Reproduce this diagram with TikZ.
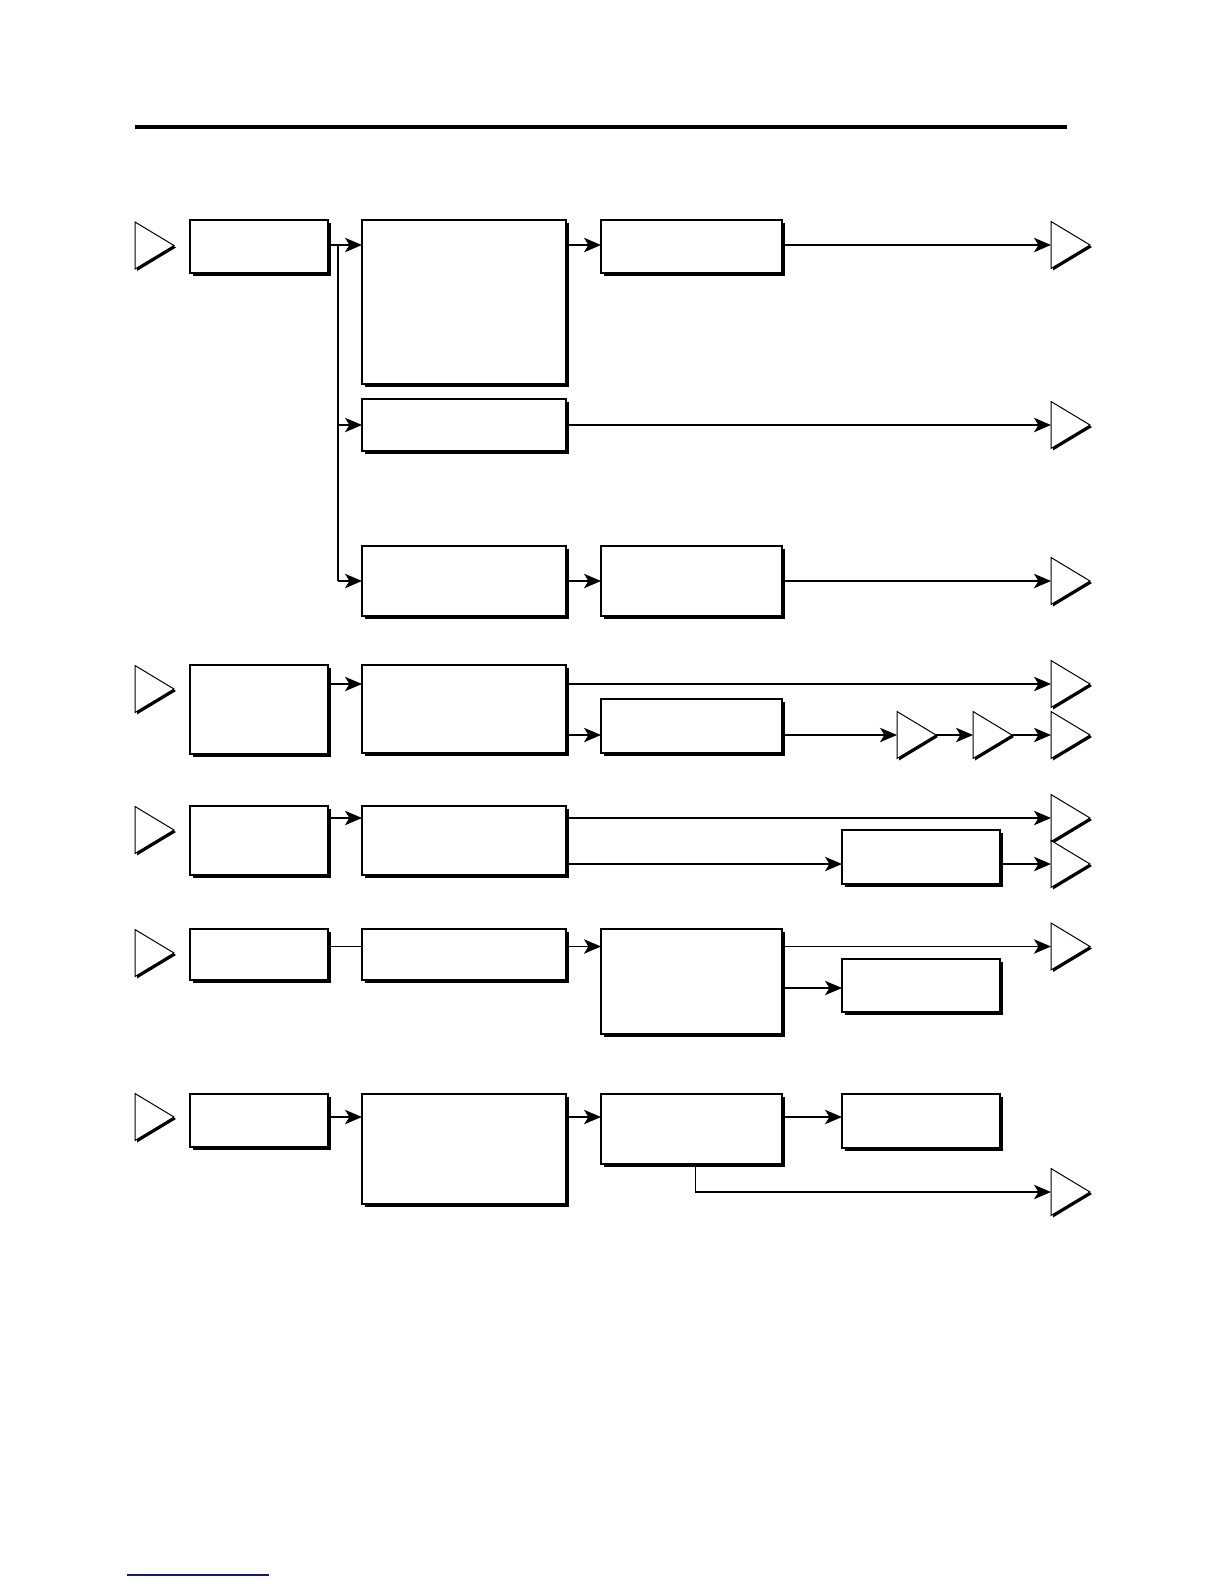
\documentclass[tikz,border=0pt]{standalone}
\usetikzlibrary{arrows.meta,shadows}
\newcommand\mybox[5]{\node[box, minimum width={(#4-#2)*0.5pt}, minimum height={(#5-#3)*0.5pt}] (#1) at ({(#2+#4)/2},{(#3+#5)/2}) {};}
\newcommand\mytri[3]{\node[trinode] (#1) at ({#2+19.5},#3) {};
  \fill ([shift={(2,2)}]#1.north west) -- ([shift={(2,2)}]#1.east) -- ([shift={(2,2)}]#1.south west) -- cycle;
  \draw[line width=0.5pt, fill=white] (#1.north west) -- (#1.east) -- (#1.south west) -- cycle;}
\begin{document}
\begin{tikzpicture}[x=0.5pt,y=-0.5pt,
  box/.style={draw, line width=0.6pt, fill=white, inner sep=0pt, outer sep=0pt,
    drop shadow={shadow xshift=1.6pt, shadow yshift=-1.6pt, fill=black, opacity=1}},
  trinode/.style={inner sep=0pt, outer sep=0pt, minimum width=19.5pt, minimum height=23.5pt},
  ln/.style={line width=0.7pt},
  arr/.style={ln, -{Stealth[length=8.5pt,width=7.2pt,inset=2.2pt]}}]
\useasboundingbox[fill=white] (0,0) rectangle (1224,1584);
% top rule
\draw[line width=2pt] (135,127) -- (1067,127);
% bottom blue rule
\draw[line width=0.6pt, color={rgb,255:red,20;green,20;blue,140}] (127,1575) -- (269,1575);
% boxes
\mybox{b1}{190}{220}{328}{273}
\mybox{b2}{362}{220}{566}{384}
\mybox{b3}{601}{220}{782}{273}
\mybox{b4}{362}{399}{566}{451}
\mybox{b5}{362}{546}{566}{616}
\mybox{b6}{601}{546}{782}{616}
\mybox{b7}{190}{665}{328}{754}
\mybox{b8}{362}{665}{566}{753}
\mybox{b9}{601}{699}{782}{753}
\mybox{b10}{190}{806}{328}{875}
\mybox{b11}{362}{806}{566}{875}
\mybox{b12}{842}{830}{1000}{884}
\mybox{b13}{190}{929}{328}{980}
\mybox{b14}{362}{929}{566}{980}
\mybox{b15}{601}{929}{782}{1034}
\mybox{b16}{842}{959}{1000}{1012}
\mybox{b17}{190}{1094}{328}{1147}
\mybox{b18}{362}{1094}{566}{1204}
\mybox{b19}{601}{1094}{782}{1164}
\mybox{b20}{842}{1094}{1000}{1148}
% input triangles
\mytri{i1}{135}{245.5}
\mytri{i2}{135}{689}
\mytri{i3}{135}{830}
\mytri{i4}{135}{953}
\mytri{i5}{135}{1117}
% output triangles
\mytri{o1}{1051}{245}
\mytri{o2}{1051}{425}
\mytri{o3}{1051}{581}
\mytri{o4}{1051}{684}
\mytri{o5}{1051}{735}
\mytri{m1}{897}{735}
\mytri{m2}{973}{735}
\mytri{o6}{1051}{818}
\mytri{o7}{1051}{864}
\mytri{o8}{1051}{946.5}
\mytri{o9}{1051}{1192}
% row 1
\coordinate (j1) at (338,245);
\coordinate (j3) at (338,581);
\draw[ln] (b1.east |- j1) -- (j1) -- (j3);
\draw[arr] (j1) -- (j1 -| b2.west);
\draw[arr] (j1 |- b4.west) -- (b4.west);
\draw[arr] (j3) -- (j3 -| b5.west);
\draw[arr] (b2.east |- j1) -- (b3.west |- j1);
\draw[arr] (b3.east |- o1.west) -- (o1.west);
\draw[arr] (b4.east |- o2.west) -- (o2.west);
\draw[arr] (b5.east) -- (b6.west);
\draw[arr] (b6.east |- o3.west) -- (o3.west);
% row 2
\draw[arr] (b7.east |- o4.west) -- (b8.west |- o4.west);
\draw[arr] (b8.east |- o4.west) -- (o4.west);
\draw[arr] (b8.east |- m1.west) -- (b9.west |- m1.west);
\draw[arr] (b9.east |- m1.west) -- (m1.west);
\draw[arr] (m1.east) -- (m2.west);
\draw[arr] (m2.east) -- (o5.west);
% row 3
\draw[arr] (b10.east |- o6.west) -- (b11.west |- o6.west);
\draw[arr] (b11.east |- o6.west) -- (o6.west);
\draw[arr] (b11.east |- o7.west) -- (b12.west |- o7.west);
\draw[arr] (b12.east |- o7.west) -- (o7.west);
% row 4
\draw[ln] (b13.east |- o8.west) -- (b14.west |- o8.west);
\draw[arr] (b14.east |- o8.west) -- (b15.west |- o8.west);
\draw[arr] (b15.east |- o8.west) -- (o8.west);
\draw[arr] ([yshift=-1.25pt]b15.east |- b16.west) -- ([yshift=-1.25pt]b16.west);
% row 5
\draw[arr] (b17.east |- i5.east) -- (b18.west |- i5.east);
\draw[arr] (b18.east |- i5.east) -- (b19.west |- i5.east);
\draw[arr] (b19.east |- i5.east) -- (b20.west |- i5.east);
\draw[arr] ([xshift=1.9pt]b19.south) |- (o9.west);
\end{tikzpicture}
\end{document}
